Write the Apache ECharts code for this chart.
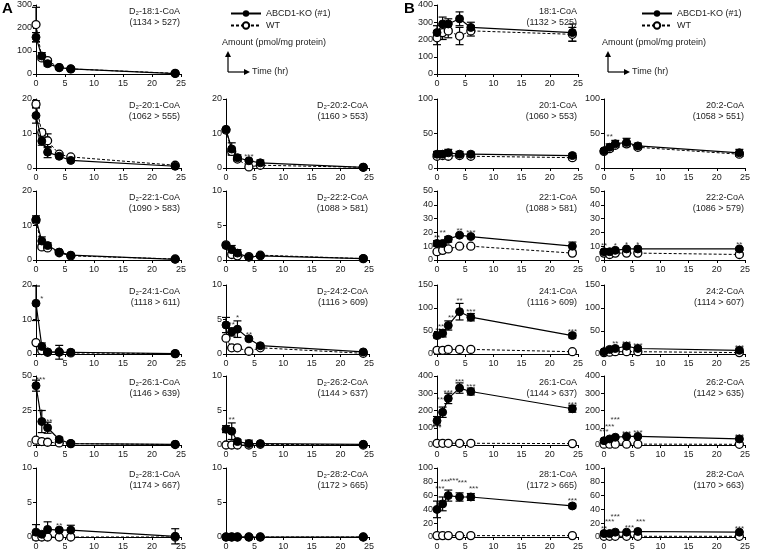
<!DOCTYPE html>
<html><head><meta charset="utf-8">
<script src="https://cdn.jsdelivr.net/npm/echarts@6/dist/echarts.min.js"></script>
<style>html,body{margin:0;padding:0;background:#fff}#c{width:766px;height:552px}</style>
</head><body><div id="c"></div>
<script>
const times = [0, 1, 2, 4, 6, 24];
const xTicks = [0, 5, 10, 15, 20, 25];
// ---- Panel A (D2 labelled) ----
const A181_KO = [160, 78, 45, 28, 22, 2];   const A181_KOe = [20, 15, 10, 4, 3, 1];
const A181_WT = [215, 70, 58, 28, 22, 3];   const A181_WTe = [75, 10, 8, 3, 3, 1];
const A201_KO = [15.2, 7.8, 4.6, 3.4, 2.2, 0.5]; const A201_KOe = [2.2, 1.2, 1.6, 0.4, 0.3, 0.2];
const A201_WT = [18.5, 10.3, 7.9, 4.0, 3.2, 0.8]; const A201_WTe = [1, 0.8, 2, 0.4, 0.3, 0.2];
const A202_KO = [11.2, 5.5, 3.0, 2.1, 1.5, 0.2]; const A202_KOe = [0.5, 1.8, 0.8, 0.2, 0.8, 0.1];
const A202_WT = [11.0, 4.8, 2.6, 0.3, 0.8, 0.2]; const A202_WTe = [0.4, 0.8, 0.6, 0.1, 0.3, 0.1];
const A221_KO = [11.8, 5.5, 4.2, 2.3, 1.4, 0.2]; const A221_KOe = [1, 1.2, 0.8, 0.3, 0.2, 0.1];
const A221_WT = [11.5, 3.8, 3.5, 2.1, 1.2, 0.3]; const A221_WTe = [0.6, 0.6, 0.4, 0.3, 0.2, 0.1];
const A222_KO = [2.1, 1.5, 1.0, 0.4, 0.6, 0.2]; const A222_KOe = [0.3, 0.6, 0.5, 0.2, 0.2, 0.3];
const A222_WT = [2.2, 0.8, 0.6, 0.5, 0.7, 0.2]; const A222_WTe = [0.2, 0.3, 0.2, 0.1, 0.1, 0.1];
const A241_KO = [14.7, 2.2, 0.6, 0.5, 0.5, 0.1]; const A241_KOe = [5, 1, 0.3, 2, 0.6, 0.1];
const A241_WT = [3.3, 1.0, 0.5, 0.6, 0.3, 0.1]; const A241_WTe = [0.5, 0.3, 0.1, 0.2, 0.1, 0.1];
const A242_KO = [4.2, 3.2, 3.6, 2.2, 1.2, 0.3]; const A242_KOe = [1.1, 0.6, 1.2, 0.2, 0.2, 0.2];
const A242_WT = [2.3, 0.9, 0.9, 0.4, 0.9, 0.1]; const A242_WTe = [0.2, 0.1, 0.1, 0.1, 0.1, 0.1];
const A261_KO = [43, 17, 12.5, 4, 1, 0.5];   const A261_KOe = [4, 8, 4, 1.5, 0.5, 0.3];
const A261_WT = [3.5, 2.5, 2, 1.5, 1, 0.3];  const A261_WTe = [0.5, 0.4, 0.3, 0.2, 0.2, 0.1];
const A262_KO = [2.3, 2.0, 0.5, 0.2, 0.2, 0.1]; const A262_KOe = [0.5, 1.2, 0.3, 0.5, 0.1, 0.1];
const A262_WT = [0, 0, 0, 0, 0.1, 0];        const A262_WTe = [0, 0, 0, 0, 0, 0];
const A281_KO = [0.7, 0.4, 1.1, 1.0, 1.0, 0.1]; const A281_KOe = [1.1, 0.2, 1.1, 0.2, 0.7, 1.1];
const A281_WT = [0, 0, 0, 0, 0, 0];          const A281_WTe = [0, 0, 0, 0, 0, 0];
const A282_KO = [0, 0, 0, 0, 0, 0];          const A282_KOe = [0, 0, 0, 0, 0, 0];
const A282_WT = [0, 0, 0, 0, 0, 0];          const A282_WTe = [0, 0, 0, 0, 0, 0];
// ---- Panel B (endogenous) ----
const B181_KO = [240, 290, 290, 320, 270, 240]; const B181_KOe = [40, 40, 30, 40, 30, 50];
const B181_WT = [210, 240, 250, 220, 250, 230]; const B181_WTe = [40, 40, 40, 50, 30, 40];
const B201_KO = [20, 20, 22, 20, 20, 18]; const B201_KOe = [4, 5, 5, 4, 3, 3];
const B201_WT = [17, 18, 17, 18, 17, 15]; const B201_WTe = [3, 3, 3, 3, 3, 3];
const B202_KO = [25, 30, 35, 37, 32, 22]; const B202_KOe = [3, 5, 5, 6, 4, 5];
const B202_WT = [24, 28, 33, 35, 30, 20]; const B202_WTe = [2, 3, 3, 3, 3, 3];
const B221_KO = [12, 12, 15, 18, 17, 10]; const B221_KOe = [2, 2, 2, 1, 1, 3];
const B221_WT = [6, 7, 8, 10, 10, 5];     const B221_WTe = [1, 1, 1, 1, 1, 1];
const B222_KO = [6, 6, 7, 8, 8, 8];       const B222_KOe = [1, 1, 1, 1, 1, 1];
const B222_WT = [5, 4, 5, 5, 5, 4];       const B222_WTe = [1, 1, 1, 1, 1, 1];
const B241_KO = [40, 45, 62, 92, 80, 40]; const B241_KOe = [5, 8, 10, 18, 8, 5];
const B241_WT = [8, 8, 10, 10, 10, 5];    const B241_WTe = [2, 2, 2, 2, 2, 2];
const B242_KO = [5, 10, 12, 17, 12, 8];   const B242_KOe = [2, 3, 3, 4, 3, 3];
const B242_WT = [3, 4, 5, 5, 5, 3];       const B242_WTe = [1, 1, 1, 1, 1, 1];
const B261_KO = [140, 190, 270, 330, 310, 210]; const B261_KOe = [25, 30, 30, 30, 20, 20];
const B261_WT = [10, 10, 10, 10, 10, 8];  const B261_WTe = [2, 2, 2, 2, 2, 2];
const B262_KO = [25, 35, 45, 50, 50, 35]; const B262_KOe = [5, 5, 6, 6, 5, 5];
const B262_WT = [5, 5, 5, 5, 5, 4];       const B262_WTe = [1, 1, 1, 1, 1, 1];
const B281_KO = [40, 48, 60, 58, 58, 45]; const B281_KOe = [12, 10, 8, 6, 5, 3];
const B281_WT = [2, 2, 2, 2, 2, 2];       const B281_WTe = [0.5, 0.5, 0.5, 0.5, 0.5, 0.5];
const B282_KO = [5, 5, 7, 7, 8, 7];       const B282_KOe = [1, 1, 1, 1, 1, 1];
const B282_WT = [1, 1, 1, 1, 1, 1];       const B282_WTe = [0.3, 0.3, 0.3, 0.3, 0.3, 0.3];
// significance marks [time, value, text]
const A202_sig = [[4, 3.2, '***']];
const A241_sig = [[1, 16, '*']];
const A242_sig = [[1, 4.2, '**'], [2, 5.2, '*'], [4, 2.8, '**']];
const A261_sig = [[0.8, 47, '***'], [1, 24, '*'], [2.3, 17, '**']];
const A262_sig = [[1, 3.6, '**']];
const A281_sig = [[4, 1.6, '**']];
const B202_sig = [[1, 45, '**']];
const B221_sig = [[0, 16, '**'], [1, 20, '**'], [4, 21, '**'], [6, 20, '***']];
const B222_sig = [[0, 10, '**'], [2, 10, '*'], [4, 11, '*'], [6, 11, '*'], [24, 11, '**']];
const B241_sig = [[0.5, 50, '***'], [1, 60, '***'], [2.5, 78, '**'], [4, 115, '**'], [6, 92, '***'], [24, 48, '***']];
const B242_sig = [[0, 12, '*'], [2, 22, '**'], [4, 22, '***'], [6, 18, '***'], [24, 14, '***']];
const B261_sig = [[0, 100, '***'], [0.8, 260, '***'], [2, 305, '***'], [4, 365, '***'], [6, 335, '***'], [24, 235, '***']];
const B262_sig = [[0, 75, '***'], [1, 105, '***'], [2, 145, '***'], [4, 65, '***'], [6, 70, '***'], [24, 45, '***']];
const B281_sig = [[0.5, 70, '***'], [1.5, 80, '***'], [3, 82, '***'], [4.5, 78, '***'], [6.5, 70, '***'], [24, 52, '***']];
const B282_sig = [[0, 12, '**'], [1, 22, '***'], [2, 30, '***'], [4.5, 14, '***'], [6.5, 22, '***'], [24, 12, '***']];

// layout
const colLeft = [36, 226, 437, 604];
const colWidth = [145, 143, 141, 141];
const rowTop = [5, 99, 191, 285, 376, 468];
const rowH = 69;

const plots = [
  [0,0,'D₂-18:1-CoA','(1134 > 527)',300,100,A181_KO,A181_KOe,A181_WT,A181_WTe,[]],
  [0,1,'D₂-20:1-CoA','(1062 > 555)',20,10,A201_KO,A201_KOe,A201_WT,A201_WTe,[]],
  [1,1,'D₂-20:2-CoA','(1160 > 553)',20,10,A202_KO,A202_KOe,A202_WT,A202_WTe,A202_sig],
  [0,2,'D₂-22:1-CoA','(1090 > 583)',20,10,A221_KO,A221_KOe,A221_WT,A221_WTe,[]],
  [1,2,'D₂-22:2-CoA','(1088 > 581)',10,5,A222_KO,A222_KOe,A222_WT,A222_WTe,[]],
  [0,3,'D₂-24:1-CoA','(1118 > 611)',20,10,A241_KO,A241_KOe,A241_WT,A241_WTe,A241_sig],
  [1,3,'D₂-24:2-CoA','(1116 > 609)',10,5,A242_KO,A242_KOe,A242_WT,A242_WTe,A242_sig],
  [0,4,'D₂-26:1-CoA','(1146 > 639)',50,25,A261_KO,A261_KOe,A261_WT,A261_WTe,A261_sig],
  [1,4,'D₂-26:2-CoA','(1144 > 637)',10,5,A262_KO,A262_KOe,A262_WT,A262_WTe,A262_sig],
  [0,5,'D₂-28:1-CoA','(1174 > 667)',10,5,A281_KO,A281_KOe,A281_WT,A281_WTe,A281_sig],
  [1,5,'D₂-28:2-CoA','(1172 > 665)',10,5,A282_KO,A282_KOe,A282_WT,A282_WTe,[]],
  [2,0,'18:1-CoA','(1132 > 525)',400,100,B181_KO,B181_KOe,B181_WT,B181_WTe,[]],
  [2,1,'20:1-CoA','(1060 > 553)',100,50,B201_KO,B201_KOe,B201_WT,B201_WTe,[]],
  [3,1,'20:2-CoA','(1058 > 551)',100,50,B202_KO,B202_KOe,B202_WT,B202_WTe,B202_sig],
  [2,2,'22:1-CoA','(1088 > 581)',50,10,B221_KO,B221_KOe,B221_WT,B221_WTe,B221_sig],
  [3,2,'22:2-CoA','(1086 > 579)',50,10,B222_KO,B222_KOe,B222_WT,B222_WTe,B222_sig],
  [2,3,'24:1-CoA','(1116 > 609)',150,50,B241_KO,B241_KOe,B241_WT,B241_WTe,B241_sig],
  [3,3,'24:2-CoA','(1114 > 607)',150,50,B242_KO,B242_KOe,B242_WT,B242_WTe,B242_sig],
  [2,4,'26:1-CoA','(1144 > 637)',400,100,B261_KO,B261_KOe,B261_WT,B261_WTe,B261_sig],
  [3,4,'26:2-CoA','(1142 > 635)',400,100,B262_KO,B262_KOe,B262_WT,B262_WTe,B262_sig],
  [2,5,'28:1-CoA','(1172 > 665)',100,20,B281_KO,B281_KOe,B281_WT,B281_WTe,B281_sig],
  [3,5,'28:2-CoA','(1170 > 663)',100,20,B282_KO,B282_KOe,B282_WT,B282_WTe,B282_sig],
];

const FONT = 'Liberation Sans';
const grid = [], xAxis = [], yAxis = [], series = [], graphic = [];
function pairs(v){ return times.map((t,i)=>[t, v[i]]); }
function errs(v,e){ return times.map((t,i)=>[t, v[i]-e[i], v[i]+e[i]]); }
const errRender = function(params, api){
  const x = api.value(0), lo = api.value(1), hi = api.value(2);
  if (hi - lo <= 0) return null;
  const p1 = api.coord([x, lo]), p2 = api.coord([x, hi]);
  const w = 4;
  const st = {stroke:'#000', lineWidth:1.2};
  return {type:'group', children:[
    {type:'line', shape:{x1:p1[0],y1:p1[1],x2:p2[0],y2:p2[1]}, style:st},
    {type:'line', shape:{x1:p1[0]-w,y1:p1[1],x2:p1[0]+w,y2:p1[1]}, style:st},
    {type:'line', shape:{x1:p2[0]-w,y1:p2[1],x2:p2[0]+w,y2:p2[1]}, style:st}
  ]};
};
plots.forEach((p, i) => {
  const [col,row,t1,t2,ymax,yint,ko,koe,wt,wte,sig] = p;
  const left = colLeft[col], top = rowTop[row], w = colWidth[col];
  grid.push({left:left, top:top, width:w, height:rowH, containLabel:false});
  xAxis.push({gridIndex:i, type:'value', min:0, max:25, interval:5,
    axisLine:{onZero:false, lineStyle:{color:'#000', width:1}},
    axisTick:{show:true, length:3, lineStyle:{color:'#000'}},
    axisLabel:{fontSize:9, color:'#222', fontFamily:FONT, margin:5},
    splitLine:{show:false}});
  yAxis.push({gridIndex:i, type:'value', min:0, max:ymax, interval:yint,
    axisLine:{show:true, lineStyle:{color:'#000', width:1}},
    axisTick:{show:true, length:3, lineStyle:{color:'#000'}},
    axisLabel:{fontSize:9, color:'#222', fontFamily:FONT, margin:4},
    splitLine:{show:false}});
  series.push({type:'custom', xAxisIndex:i, yAxisIndex:i, renderItem:errRender, data:errs(wt,wte), z:2, silent:true});
  series.push({type:'custom', xAxisIndex:i, yAxisIndex:i, renderItem:errRender, data:errs(ko,koe), z:2, silent:true});
  series.push({name:'WT', type:'line', xAxisIndex:i, yAxisIndex:i, data:pairs(wt),
    symbol:'circle', symbolSize:8, showAllSymbol:true,
    lineStyle:{color:'#000', width:1, type:[3,2]},
    itemStyle:{color:'#fff', borderColor:'#000', borderWidth:1.3}, z:3, animation:false});
  series.push({name:'ABCD1-KO (#1)', type:'line', xAxisIndex:i, yAxisIndex:i, data:pairs(ko),
    symbol:'circle', symbolSize:8, showAllSymbol:true,
    lineStyle:{color:'#000', width:1.2},
    itemStyle:{color:'#000', borderColor:'#000'}, z:4, animation:false});
  if (sig.length) series.push({type:'scatter', xAxisIndex:i, yAxisIndex:i, data:sig, symbolSize:0,
    label:{show:true, position:'inside', formatter:(d)=>d.value[2], fontSize:8, color:'#000', fontFamily:FONT}, z:5, silent:true});
  graphic.push({type:'text', x:left + w - 1, y:top + 1, z:10,
    style:{text:t1 + '\n' + t2, font:'9px "Liberation Sans"', fill:'#222', align:'right', verticalAlign:'top', lineHeight:11}});
});

// panel letters
graphic.push({type:'text', left:2, top:1, style:{text:'A', font:'bold 15px "Liberation Sans"', fill:'#000'}});
graphic.push({type:'text', left:404, top:1, style:{text:'B', font:'bold 15px "Liberation Sans"', fill:'#000'}});
// axis hint diagrams
function hint(x, y){
  graphic.push({type:'text', left:x - 6, top:y, style:{text:'Amount (pmol/mg protein)', font:'9px "Liberation Sans"', fill:'#222'}});
  graphic.push({type:'line', shape:{x1:x, y1:y+34, x2:x, y2:y+17}, style:{stroke:'#000', lineWidth:1.2}});
  graphic.push({type:'polygon', shape:{points:[[x-3,y+19],[x+3,y+19],[x,y+13]]}, style:{fill:'#000'}});
  graphic.push({type:'line', shape:{x1:x, y1:y+34, x2:x+18, y2:y+34}, style:{stroke:'#000', lineWidth:1.2}});
  graphic.push({type:'polygon', shape:{points:[[x+16,y+31],[x+16,y+37],[x+22,y+34]]}, style:{fill:'#000'}});
  graphic.push({type:'text', left:x + 24, top:y + 29, style:{text:'Time (hr)', font:'9px "Liberation Sans"', fill:'#222'}});
}
hint(228, 38);
hint(608, 38);

const chart = echarts.init(document.getElementById('c'), null, {renderer:'canvas'});
chart.setOption({
  animation:false,
  grid, xAxis, yAxis, series, graphic,
  legend:[
    {data:['ABCD1-KO (#1)','WT'], orient:'vertical', left:225, top:4, itemWidth:30, itemHeight:8, itemGap:3,
     textStyle:{fontSize:9, fontFamily:FONT, color:'#222'}, selectedMode:false},
    {data:['ABCD1-KO (#1)','WT'], orient:'vertical', left:636, top:4, itemWidth:30, itemHeight:8, itemGap:3,
     textStyle:{fontSize:9, fontFamily:FONT, color:'#222'}, selectedMode:false}
  ]
});
</script></body></html>
